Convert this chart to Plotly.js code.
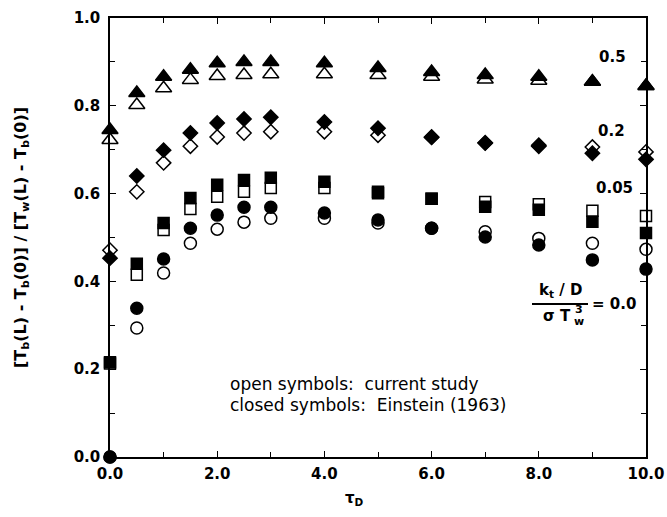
<!DOCTYPE html>
<html>
<head>
<meta charset="utf-8">
<script src="https://cdn.plot.ly/plotly-3.0.1.min.js"></script>
<style>
  html, body { margin: 0; padding: 0; background: #fff; }
  #chart { width: 667px; height: 517px; }
</style>
</head>
<body>
<div id="chart"></div>
<script>
// Dimensionless optical depth tau_D
const tauD = [0, 0.5, 1, 1.5, 2, 2.5, 3, 4, 5, 6, 7, 8, 9, 10];

// Conduction parameter k_t/D / (sigma Tw^3) = 0.5
const closed05 = [0.745, 0.829, 0.866, 0.882, 0.897, 0.900, 0.900, 0.897, 0.886, 0.877, 0.870, 0.866, 0.855, 0.845];
const open05   = [0.722, 0.802, 0.840, 0.859, 0.868, 0.870, 0.872, 0.872, 0.870, 0.866, 0.860, 0.857, 0.855, 0.845];

// = 0.2
const closed02 = [0.453, 0.640, 0.699, 0.738, 0.761, 0.770, 0.774, 0.763, 0.749, 0.729, 0.715, 0.708, 0.692, 0.678];
const open02   = [0.471, 0.604, 0.670, 0.708, 0.729, 0.738, 0.741, 0.741, 0.733, 0.728, 0.716, 0.710, 0.706, 0.695];

// = 0.05
const closed005 = [0.216, 0.440, 0.533, 0.590, 0.620, 0.631, 0.636, 0.627, 0.604, 0.588, 0.570, 0.563, 0.536, 0.510];
const open005   = [0.213, 0.415, 0.517, 0.565, 0.593, 0.604, 0.613, 0.613, 0.601, 0.588, 0.581, 0.576, 0.561, 0.549];

// = 0.0
const closed00 = [0.000, 0.339, 0.451, 0.521, 0.551, 0.569, 0.569, 0.556, 0.540, 0.521, 0.501, 0.483, 0.449, 0.428];
const open00   = [0.000, 0.294, 0.419, 0.487, 0.519, 0.535, 0.544, 0.544, 0.533, 0.521, 0.513, 0.498, 0.487, 0.473];

// Curve labels (parameter value of each series)
const curveLabels = ['0.5', '0.2', '0.05'];
const curveLabelX = [9.38, 9.35, 9.42];
const curveLabelY = [0.911, 0.743, 0.613];

const FONT = 'DejaVu Sans, Liberation Sans, Arial, sans-serif';

// Plot frame in pixels
const W = 667, H = 517, L = 110, R = 21, T = 18, B = 60;
const pw = W - L - R, ph = H - T - B;
const px = v => (v - L) / pw;
const py = v => 1 - (v - T) / ph;

function series(y, symbol, size, name) {
  return {
    x: tauD, y: y, type: 'scatter', mode: 'markers', name: name,
    cliponaxis: false,
    marker: {
      symbol: symbol, size: size, color: '#000',
      line: { color: '#000', width: 1.5 }
    }
  };
}

const data = [
  series(closed05, 'triangle-up', 14, 'Einstein 0.5'),
  series(open05, 'triangle-up-open', 14, 'current 0.5'),
  series(closed02, 'diamond', 11, 'Einstein 0.2'),
  series(open02, 'diamond-open', 11, 'current 0.2'),
  series(closed005, 'square', 11, 'Einstein 0.05'),
  series(open005, 'square-open', 11, 'current 0.05'),
  series(closed00, 'circle', 12, 'Einstein 0.0'),
  series(open00, 'circle-open', 12, 'current 0.0')
];

function txt(x, y, text, size, extra) {
  return Object.assign({
    x: px(x), y: py(y), xref: 'paper', yref: 'paper', text: text, showarrow: false,
    xanchor: 'center', yanchor: 'middle',
    font: { family: FONT, size: size, color: '#000' }
  }, extra || {});
}

const annotations = curveLabels.map((t, i) => ({
  x: curveLabelX[i], y: curveLabelY[i], xref: 'x', yref: 'y',
  xanchor: 'center', yanchor: 'middle',
  text: '<b>' + t + '</b>', showarrow: false,
  font: { family: FONT, size: 15, color: '#000' }
}));

annotations.push(
  txt(228, 384, 'open symbols:  current study', 17, { xanchor: 'left' }),
  txt(228, 405, 'closed symbols:  Einstein (1963)', 17, { xanchor: 'left' }),
  // fraction k_t/D over sigma T_w^3
  txt(560, 302, '<b>k<sub>t</sub> / D</b>', 15, { yanchor: 'bottom' }),
  txt(557, 316, '<b>σ T</b>', 15),
  txt(579, 309, '<b>3</b>', 11),
  txt(579, 321, '<b>w</b>', 11),
  txt(614, 304, '<b>= 0.0</b>', 15),
  // axis titles
  txt(354, 499, '<b>τ<sub>D</sub></b>', 15),
  txt(21, 238, '<b>[T<sub>b</sub>(L) - T<sub>b</sub>(0)] / [T<sub>w</sub>(L) - T<sub>b</sub>(0)]</b>', 16,
      { textangle: -90 })
);

const layout = {
  width: W, height: H,
  margin: { l: L, r: R, t: T, b: B },
  paper_bgcolor: '#fff', plot_bgcolor: '#fff',
  showlegend: false,
  font: { family: FONT, color: '#000' },
  xaxis: {
    range: [0, 10], dtick: 2, tick0: 0, tickformat: '.1f',
    ticks: 'inside', ticklen: 6, tickwidth: 1.2, tickcolor: '#000',
    minor: { dtick: 1, ticks: 'inside', ticklen: 5, tickwidth: 1.2, tickcolor: '#000' },
    showline: true, linecolor: '#000', linewidth: 1.5, mirror: 'ticks',
    showgrid: false, zeroline: false, ticklabelstandoff: 2,
    tickfont: { family: FONT, size: 15, color: '#000', weight: 'bold' }
  },
  yaxis: {
    range: [0, 1], dtick: 0.2, tick0: 0, tickformat: '.1f',
    ticks: 'inside', ticklen: 6, tickwidth: 1.2, tickcolor: '#000',
    minor: { dtick: 0.1, ticks: 'inside', ticklen: 5, tickwidth: 1.2, tickcolor: '#000' },
    showline: true, linecolor: '#000', linewidth: 1.5, mirror: 'ticks',
    showgrid: false, zeroline: false, ticklabelstandoff: 5,
    tickfont: { family: FONT, size: 15, color: '#000', weight: 'bold' }
  },
  shapes: [
    { type: 'line', xref: 'paper', yref: 'paper',
      x0: px(532), x1: px(588), y0: py(304), y1: py(304),
      line: { color: '#000', width: 1.8 } }
  ],
  annotations: annotations
};

Plotly.newPlot('chart', data, layout, { displayModeBar: false });
</script>
</body>
</html>
